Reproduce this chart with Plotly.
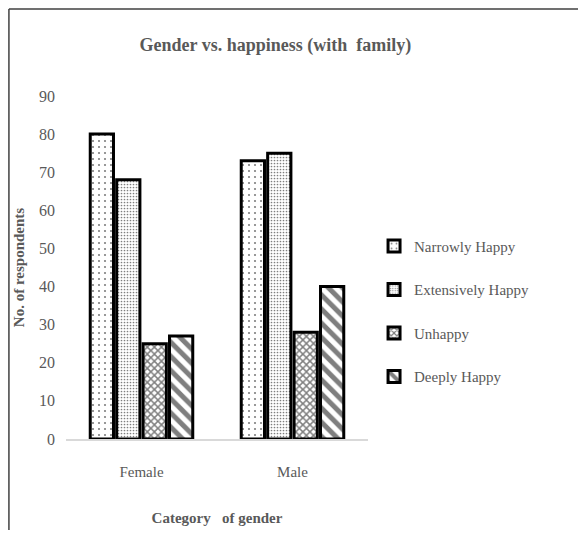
import plotly.graph_objects as go

genders = ["Female", "Male"]
series = ["Narrowly Happy", "Extensively Happy", "Unhappy", "Deeply Happy"]
narrowly = [80, 73]
extensively = [68, 75]
unhappy = [25, 28]
deeply = [27, 40]

values = [narrowly, extensively, unhappy, deeply]
patterns = [
    dict(shape=".", size=6, solidity=0.1),
    dict(shape=".", size=3, solidity=0.25),
    dict(shape="x", size=5, solidity=0.5),
    dict(shape="\\", size=10, solidity=0.5),
]

grey = "#595959"
font = "Liberation Serif"

fig = go.Figure()
for i, (name, vals) in enumerate(zip(series, values)):
    fig.add_trace(go.Bar(
        x=genders, y=vals, name=name, legendgroup=name,
        marker=dict(color="white", line=dict(color="black", width=3),
                    pattern=dict(fgcolor="black", bgcolor="white", **patterns[i])),
    ))

# the page adds an 8px body margin, so the figure is kept smaller than the window
fig.update_layout(
    width=570, height=522,
    margin=dict(l=58, r=210, t=88, b=91),
    paper_bgcolor="white", plot_bgcolor="white",
    barmode="group", bargap=0.3, bargroupgap=0.12,
    font=dict(family=font, color=grey, size=15),
    title=dict(text="<b>Gender vs. happiness (with  family)</b>",
               x=0.469, xanchor="center", y=1 - 37 / 522, yanchor="middle",
               font=dict(size=18, color=grey)),
    legend=dict(x=1.02, y=0.61, xanchor="left", yanchor="top",
                tracegroupgap=21, font=dict(size=15, color=grey),
                bgcolor="rgba(0,0,0,0)"),
    showlegend=True,
)
fig.update_yaxes(range=[0, 90], dtick=10, showgrid=False, zeroline=False,
                 showline=False, ticks="", ticklabelstandoff=10, automargin=False,
                 tickfont=dict(size=16),
                 title=dict(text="<b>No. of respondents</b>", font=dict(size=15, color=grey), standoff=10))
fig.update_xaxes(showgrid=False, showline=True, linecolor="#d9d9d9", linewidth=1.5,
                 ticks="", tickfont=dict(size=15), ticklabelstandoff=18, automargin=False,
                 title=dict(text="<b>Category   of gender</b>", font=dict(size=15, color=grey), standoff=34))

# outer chart frame: only the left and top edges show in the original
frame = dict(color="#404040", width=1.5)
fig.add_shape(type="line", xref="paper", yref="paper",
              x0=-0.189, x1=-0.189, y0=-0.5, y1=1.2536, line=frame, layer="below")
fig.add_shape(type="line", xref="paper", yref="paper",
              x0=-0.189, x1=2.0, y0=1.2536, y1=1.2536, line=frame, layer="below")

fig.write_html("out.html")
